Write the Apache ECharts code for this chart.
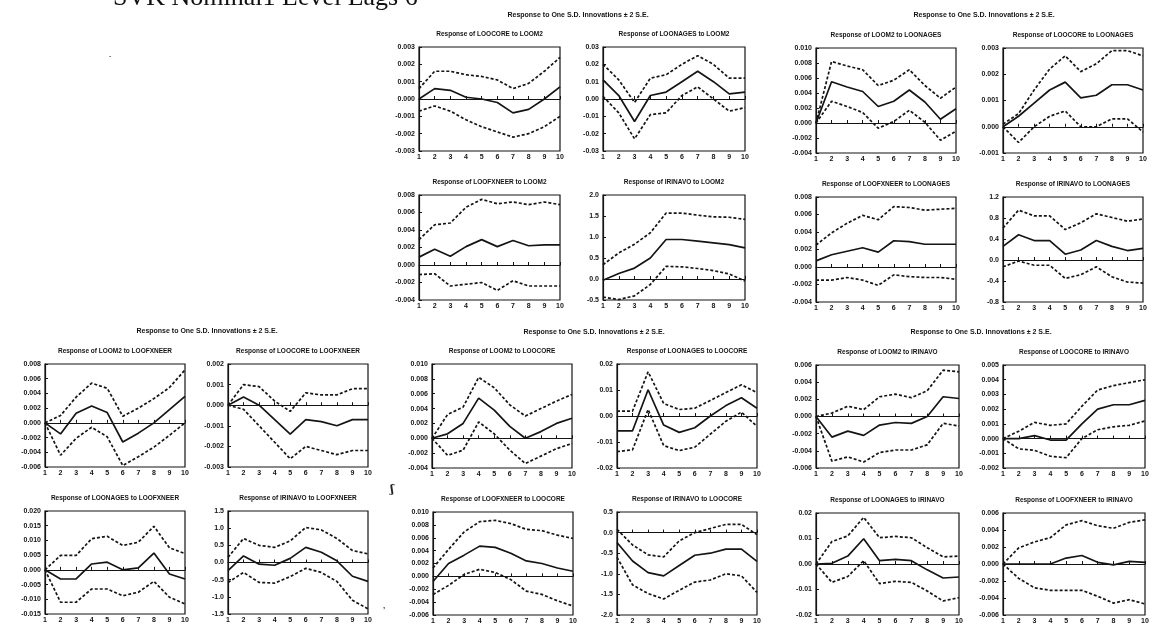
<!DOCTYPE html>
<html>
<head>
<meta charset="utf-8">
<script src="https://cdn.jsdelivr.net/npm/echarts@6/dist/echarts.min.js"></script>
<style>
  html, body { margin: 0; padding: 0; background: #fff; }
  #chart { width: 1156px; height: 636px; }
</style>
</head>
<body>
<div id="chart"></div>
<script>
// Impulse responses over 10 periods, each with a +/- 2 S.E. band.
const steps = ['1', '2', '3', '4', '5', '6', '7', '8', '9', '10'];
const pageTitle = 'SVK Nominal1 Level Lags 6';
const blockHeading = 'Response to One S.D. Innovations \u00b1 2 S.E.';

// ---- shock: LOOM2 ----
const coreToM2Axis = [-0.003, 0.003, 0.001];
const coreToM2Up  = [0.0006, 0.0016, 0.0016, 0.0014, 0.0013, 0.0011, 0.0006, 0.0009, 0.0016, 0.0024];
const coreToM2Mid = [0.0000, 0.0006, 0.0005, 0.0001, 0.0000, -0.0002, -0.0008, -0.0006, 0.0000, 0.0007];
const coreToM2Lo  = [-0.0007, -0.0004, -0.0007, -0.0012, -0.0016, -0.0019, -0.0022, -0.0020, -0.0016, -0.0010];

const nagesToM2Axis = [-0.03, 0.03, 0.01];
const nagesToM2Up  = [0.020, 0.011, -0.002, 0.012, 0.014, 0.020, 0.025, 0.020, 0.012, 0.012];
const nagesToM2Mid = [0.011, 0.002, -0.013, 0.002, 0.004, 0.010, 0.016, 0.010, 0.003, 0.004];
const nagesToM2Lo  = [0.0015, -0.008, -0.023, -0.009, -0.008, 0.002, 0.007, 0.000, -0.007, -0.005];

const fxneerToM2Axis = [-0.004, 0.008, 0.002];
const fxneerToM2Up  = [0.0029, 0.0046, 0.0048, 0.0066, 0.0075, 0.0070, 0.0072, 0.0069, 0.0072, 0.0069];
const fxneerToM2Mid = [0.0009, 0.0018, 0.0010, 0.0021, 0.0029, 0.0021, 0.0028, 0.0022, 0.0023, 0.0023];
const fxneerToM2Lo  = [-0.0011, -0.0010, -0.0024, -0.0022, -0.0020, -0.0029, -0.0018, -0.0024, -0.0024, -0.0024];

const irinavoToM2Axis = [-0.5, 2.0, 0.5];
const irinavoToM2Up  = [0.34, 0.62, 0.83, 1.10, 1.57, 1.57, 1.52, 1.48, 1.47, 1.42];
const irinavoToM2Mid = [-0.03, 0.13, 0.26, 0.50, 0.94, 0.94, 0.90, 0.86, 0.82, 0.74];
const irinavoToM2Lo  = [-0.43, -0.49, -0.40, -0.13, 0.30, 0.29, 0.25, 0.20, 0.12, -0.05];

// ---- shock: LOONAGES ----
const m2ToNagesAxis = [-0.004, 0.010, 0.002];
const m2ToNagesUp  = [0, 0.0082, 0.0076, 0.0071, 0.0050, 0.0057, 0.0071, 0.0050, 0.0033, 0.0048];
const m2ToNagesMid = [0, 0.0055, 0.0048, 0.0042, 0.0022, 0.0029, 0.0044, 0.0028, 0.0005, 0.0019];
const m2ToNagesLo  = [0, 0.0029, 0.0022, 0.0014, -0.0007, 0.0002, 0.0017, 0.0001, -0.0023, -0.0011];

const coreToNagesAxis = [-0.001, 0.003, 0.001];
const coreToNagesUp  = [0.0001, 0.0005, 0.0014, 0.0022, 0.0027, 0.0021, 0.0024, 0.0029, 0.0029, 0.0027];
const coreToNagesMid = [0.0000, 0.0004, 0.0009, 0.0014, 0.0017, 0.0011, 0.0012, 0.0016, 0.0016, 0.0014];
const coreToNagesLo  = [0.0000, -0.0006, 0.0000, 0.0004, 0.0006, 0.0000, 0.0000, 0.0003, 0.0003, -0.0002];

const fxneerToNagesAxis = [-0.004, 0.008, 0.002];
const fxneerToNagesUp  = [0.0025, 0.0039, 0.0050, 0.0059, 0.0054, 0.0069, 0.0068, 0.0065, 0.0066, 0.0067];
const fxneerToNagesMid = [0.0007, 0.0014, 0.0018, 0.0022, 0.0017, 0.0030, 0.0029, 0.0026, 0.0026, 0.0026];
const fxneerToNagesLo  = [-0.0015, -0.0015, -0.0012, -0.0015, -0.0021, -0.0009, -0.0011, -0.0012, -0.0012, -0.0014];

const irinavoToNagesAxis = [-0.8, 1.2, 0.4];
const irinavoToNagesUp  = [0.61, 0.95, 0.84, 0.84, 0.58, 0.71, 0.88, 0.81, 0.74, 0.78];
const irinavoToNagesMid = [0.26, 0.48, 0.37, 0.37, 0.11, 0.19, 0.37, 0.26, 0.18, 0.22];
const irinavoToNagesLo  = [-0.13, -0.02, -0.10, -0.10, -0.35, -0.28, -0.13, -0.32, -0.42, -0.44];

// ---- shock: LOOFXNEER ----
const m2ToFxneerAxis = [-0.006, 0.008, 0.002];
const m2ToFxneerUp  = [0, 0.0010, 0.0035, 0.0054, 0.0047, 0.0009, 0.0020, 0.0033, 0.0048, 0.0072];
const m2ToFxneerMid = [0, -0.0015, 0.0013, 0.0023, 0.0014, -0.0026, -0.0014, 0.0000, 0.0018, 0.0036];
const m2ToFxneerLo  = [0, -0.0044, -0.0021, -0.0006, -0.0019, -0.0058, -0.0046, -0.0033, -0.0017, 0.0000];

const coreToFxneerAxis = [-0.003, 0.002, 0.001];
const coreToFxneerUp  = [0.0000, 0.0010, 0.0009, 0.0002, -0.0003, 0.0006, 0.0005, 0.0005, 0.0008, 0.0008];
const coreToFxneerMid = [0.0000, 0.0004, 0.0000, -0.0007, -0.0014, -0.0007, -0.0008, -0.0010, -0.0007, -0.0007];
const coreToFxneerLo  = [0.0000, -0.0002, -0.0010, -0.0018, -0.0026, -0.0020, -0.0022, -0.0024, -0.0022, -0.0022];

const nagesToFxneerAxis = [-0.015, 0.020, 0.005];
const nagesToFxneerUp  = [0, 0.0049, 0.0049, 0.0106, 0.0114, 0.0083, 0.0094, 0.0148, 0.0075, 0.0055];
const nagesToFxneerMid = [0, -0.0031, -0.0031, 0.0020, 0.0026, 0.0000, 0.0007, 0.0057, -0.0014, -0.0031];
const nagesToFxneerLo  = [0, -0.0110, -0.0110, -0.0065, -0.0065, -0.0088, -0.0076, -0.0039, -0.0093, -0.0116];

const irinavoToFxneerAxis = [-1.5, 1.5, 0.5];
const irinavoToFxneerUp  = [0.15, 0.70, 0.50, 0.44, 0.63, 1.02, 0.95, 0.70, 0.35, 0.25];
const irinavoToFxneerMid = [-0.24, 0.19, -0.05, -0.08, 0.12, 0.44, 0.30, 0.05, -0.40, -0.55];
const irinavoToFxneerLo  = [-0.58, -0.29, -0.58, -0.60, -0.41, -0.17, -0.29, -0.55, -1.10, -1.35];

// ---- shock: LOOCORE ----
const m2ToCoreAxis = [-0.004, 0.010, 0.002];
const m2ToCoreUp  = [0, 0.0032, 0.0042, 0.0082, 0.0068, 0.0045, 0.0030, 0.0040, 0.0050, 0.0059];
const m2ToCoreMid = [0, 0.0006, 0.0020, 0.0054, 0.0038, 0.0016, 0.0000, 0.0009, 0.0020, 0.0027];
const m2ToCoreLo  = [0, -0.0023, -0.0016, 0.0022, 0.0006, -0.0016, -0.0034, -0.0024, -0.0014, -0.0007];

const nagesToCoreAxis = [-0.02, 0.02, 0.01];
const nagesToCoreUp  = [0.0019, 0.0019, 0.0170, 0.0048, 0.0025, 0.0030, 0.0060, 0.0090, 0.0120, 0.0090];
const nagesToCoreMid = [-0.0057, -0.0057, 0.0101, -0.0035, -0.0063, -0.0045, 0.0000, 0.0040, 0.0070, 0.0030];
const nagesToCoreLo  = [-0.0137, -0.0130, 0.0025, -0.0114, -0.0133, -0.0120, -0.0070, -0.0020, 0.0015, -0.0040];

const fxneerToCoreAxis = [-0.006, 0.010, 0.002];
const fxneerToCoreUp  = [0.0013, 0.0042, 0.0069, 0.0085, 0.0087, 0.0082, 0.0073, 0.0071, 0.0064, 0.0059];
const fxneerToCoreMid = [-0.0008, 0.0020, 0.0033, 0.0047, 0.0045, 0.0036, 0.0024, 0.0020, 0.0013, 0.0008];
const fxneerToCoreLo  = [-0.0028, -0.0014, 0.0003, 0.0011, 0.0006, -0.0005, -0.0023, -0.0028, -0.0038, -0.0046];

const irinavoToCoreAxis = [-2.0, 0.5, 0.5];
const irinavoToCoreUp  = [0.08, -0.30, -0.54, -0.59, -0.20, 0.00, 0.10, 0.20, 0.20, -0.05];
const irinavoToCoreMid = [-0.24, -0.69, -0.97, -1.05, -0.80, -0.55, -0.50, -0.40, -0.40, -0.70];
const irinavoToCoreLo  = [-0.60, -1.27, -1.48, -1.61, -1.40, -1.20, -1.15, -1.00, -1.05, -1.45];

// ---- shock: IRINAVO ----
const m2ToIrinavoAxis = [-0.006, 0.006, 0.002];
const m2ToIrinavoUp  = [0, 0.0004, 0.0012, 0.0008, 0.0023, 0.0026, 0.0022, 0.0030, 0.0054, 0.0052];
const m2ToIrinavoMid = [0, -0.0024, -0.0017, -0.0022, -0.0010, -0.0007, -0.0008, 0.0000, 0.0023, 0.0021];
const m2ToIrinavoLo  = [0, -0.0052, -0.0047, -0.0053, -0.0042, -0.0039, -0.0039, -0.0033, -0.0008, -0.0011];

const coreToIrinavoAxis = [-0.002, 0.005, 0.001];
const coreToIrinavoUp  = [0, 0.0005, 0.0011, 0.0009, 0.0010, 0.0022, 0.0033, 0.0036, 0.0038, 0.0040];
const coreToIrinavoMid = [0, 0.0000, 0.0002, -0.0001, -0.0001, 0.0010, 0.0020, 0.0023, 0.0023, 0.0026];
const coreToIrinavoLo  = [0, -0.0007, -0.0008, -0.0012, -0.0013, 0.0000, 0.0006, 0.0008, 0.0009, 0.0012];

const nagesToIrinavoAxis = [-0.02, 0.02, 0.01];
const nagesToIrinavoUp  = [0, 0.0088, 0.0110, 0.0183, 0.0103, 0.0108, 0.0103, 0.0064, 0.0028, 0.0031];
const nagesToIrinavoMid = [0, 0.0003, 0.0031, 0.0099, 0.0013, 0.0018, 0.0013, -0.0023, -0.0055, -0.0051];
const nagesToIrinavoLo  = [0, -0.0072, -0.0049, 0.0013, -0.0077, -0.0068, -0.0072, -0.0106, -0.0145, -0.0132];

const fxneerToIrinavoAxis = [-0.006, 0.006, 0.002];
const fxneerToIrinavoUp  = [0, 0.0019, 0.0026, 0.0031, 0.0046, 0.0051, 0.0045, 0.0042, 0.0049, 0.0052];
const fxneerToIrinavoMid = [0, 0.0000, 0.0000, 0.0000, 0.0007, 0.0010, 0.0002, -0.0001, 0.0003, 0.0002];
const fxneerToIrinavoLo  = [0, -0.0017, -0.0028, -0.0031, -0.0031, -0.0031, -0.0038, -0.0046, -0.0042, -0.0047];

// Panel contents, grouped by shock (four panels per group).
const panels = [
  ['Response of LOOCORE to LOOM2', coreToM2Axis, coreToM2Up, coreToM2Mid, coreToM2Lo],
  ['Response of LOONAGES to LOOM2', nagesToM2Axis, nagesToM2Up, nagesToM2Mid, nagesToM2Lo],
  ['Response of LOOFXNEER to LOOM2', fxneerToM2Axis, fxneerToM2Up, fxneerToM2Mid, fxneerToM2Lo],
  ['Response of IRINAVO to LOOM2', irinavoToM2Axis, irinavoToM2Up, irinavoToM2Mid, irinavoToM2Lo],

  ['Response of LOOM2 to LOONAGES', m2ToNagesAxis, m2ToNagesUp, m2ToNagesMid, m2ToNagesLo],
  ['Response of LOOCORE to LOONAGES', coreToNagesAxis, coreToNagesUp, coreToNagesMid, coreToNagesLo],
  ['Response of LOOFXNEER to LOONAGES', fxneerToNagesAxis, fxneerToNagesUp, fxneerToNagesMid, fxneerToNagesLo],
  ['Response of IRINAVO to LOONAGES', irinavoToNagesAxis, irinavoToNagesUp, irinavoToNagesMid, irinavoToNagesLo],

  ['Response of LOOM2 to LOOFXNEER', m2ToFxneerAxis, m2ToFxneerUp, m2ToFxneerMid, m2ToFxneerLo],
  ['Response of LOOCORE to LOOFXNEER', coreToFxneerAxis, coreToFxneerUp, coreToFxneerMid, coreToFxneerLo],
  ['Response of LOONAGES to LOOFXNEER', nagesToFxneerAxis, nagesToFxneerUp, nagesToFxneerMid, nagesToFxneerLo],
  ['Response of IRINAVO to LOOFXNEER', irinavoToFxneerAxis, irinavoToFxneerUp, irinavoToFxneerMid, irinavoToFxneerLo],

  ['Response of LOOM2 to LOOCORE', m2ToCoreAxis, m2ToCoreUp, m2ToCoreMid, m2ToCoreLo],
  ['Response of LOONAGES to LOOCORE', nagesToCoreAxis, nagesToCoreUp, nagesToCoreMid, nagesToCoreLo],
  ['Response of LOOFXNEER to LOOCORE', fxneerToCoreAxis, fxneerToCoreUp, fxneerToCoreMid, fxneerToCoreLo],
  ['Response of IRINAVO to LOOCORE', irinavoToCoreAxis, irinavoToCoreUp, irinavoToCoreMid, irinavoToCoreLo],

  ['Response of LOOM2 to IRINAVO', m2ToIrinavoAxis, m2ToIrinavoUp, m2ToIrinavoMid, m2ToIrinavoLo],
  ['Response of LOOCORE to IRINAVO', coreToIrinavoAxis, coreToIrinavoUp, coreToIrinavoMid, coreToIrinavoLo],
  ['Response of LOONAGES to IRINAVO', nagesToIrinavoAxis, nagesToIrinavoUp, nagesToIrinavoMid, nagesToIrinavoLo],
  ['Response of LOOFXNEER to IRINAVO', fxneerToIrinavoAxis, fxneerToIrinavoUp, fxneerToIrinavoMid, fxneerToIrinavoLo]
];

// Plot frames [left, top, width, height] in pixels, same order as panels.
const frames = [
  [419, 47, 141, 104], [603, 47, 142, 104], [419, 195, 141, 105], [603, 195, 142, 105],
  [816, 48, 140, 105], [1003, 48, 140, 105], [816, 197, 140, 105], [1003, 197, 140, 105],
  [45, 364, 140, 103], [228, 364, 140, 103], [45, 511, 140, 103], [228, 511, 140, 103],
  [432, 364, 140, 104], [617, 364, 140, 104], [433, 512, 140, 103], [617, 512, 140, 103],
  [816, 365, 143, 103], [1003, 365, 142, 103], [816, 513, 143, 102], [1003, 513, 142, 102]
];
// Group heading anchors [centerX, y].
const headings = [[578, 15], [984, 15], [207, 331], [594, 332], [981, 332]];

const INK = '#141414';
const labelFont = { fontFamily: 'Arial, "Liberation Sans", sans-serif', fontWeight: 'bold', fontSize: 7, color: INK };

function decimalsOf(v) {
  const s = String(v);
  return s.indexOf('.') < 0 ? 0 : s.split('.')[1].length;
}

const grid = [], xAxis = [], yAxis = [], series = [], graphic = [];

panels.forEach((p, i) => {
  const [title, axis, up, mid, lo] = p;
  const [l, t, w, h] = frames[i];
  const dec = decimalsOf(axis[2]);
  grid.push({ left: l, top: t, width: w, height: h, show: true, borderColor: INK, borderWidth: 1.2, backgroundColor: 'transparent' });
  xAxis.push({
    type: 'category', gridIndex: i, data: steps, boundaryGap: false,
    axisLine: { lineStyle: { color: INK, width: 1.2 } },
    axisTick: { inside: true, length: 3, alignWithLabel: true, interval: 0, lineStyle: { color: INK } },
    axisLabel: Object.assign({ margin: 3, interval: 0 }, labelFont),
    splitLine: { show: false }
  });
  yAxis.push({
    type: 'value', gridIndex: i, min: axis[0], max: axis[1], interval: axis[2],
    axisLine: { show: true, lineStyle: { color: INK, width: 1.2 } },
    axisTick: { show: true, inside: true, length: 3, lineStyle: { color: INK } },
    axisLabel: Object.assign({ margin: 4, formatter: v => (Math.abs(v) < 1e-12 ? 0 : v).toFixed(dec) }, labelFont),
    splitLine: { show: false }
  });
  const band = { type: 'line', xAxisIndex: i, yAxisIndex: i, symbol: 'none', silent: true,
    lineStyle: { color: INK, width: 1.7, type: [3, 2] } };
  series.push(Object.assign({}, band, { data: up }));
  series.push(Object.assign({}, band, { data: lo }));
  series.push({
    type: 'line', xAxisIndex: i, yAxisIndex: i, symbol: 'none', silent: true, data: mid,
    lineStyle: { color: INK, width: 1.7 },
    markLine: { symbol: 'none', silent: true, label: { show: false },
      lineStyle: { color: INK, width: 1.2, type: 'solid' }, data: [{ yAxis: 0 }] }
  });
  graphic.push({ type: 'text', x: l + w / 2, y: t - 13,
    style: { text: title, fill: INK, font: 'bold 6.5px Arial, "Liberation Sans", sans-serif',
      textAlign: 'center', textVerticalAlign: 'middle', align: 'center', verticalAlign: 'middle' } });
});

headings.forEach(([cx, cy]) => {
  graphic.push({ type: 'text', x: cx, y: cy,
    style: { text: blockHeading, fill: INK, font: 'bold 7px Arial, "Liberation Sans", sans-serif',
      textAlign: 'center', textVerticalAlign: 'middle', align: 'center', verticalAlign: 'middle' } });
});

graphic.push({ type: 'text', x: 113, y: 11,
  style: { text: pageTitle, fill: '#111', font: '26px "Liberation Serif", "DejaVu Serif", serif',
    textAlign: 'left', textVerticalAlign: 'bottom', align: 'left', verticalAlign: 'bottom' } });
// Stray pen marks on the sheet
graphic.push({ type: 'text', x: 392, y: 490,
  style: { text: '\u0283', fill: '#222', font: 'bold 11px "DejaVu Serif", serif',
    textAlign: 'center', textVerticalAlign: 'middle', align: 'center', verticalAlign: 'middle' } });
graphic.push({ type: 'text', x: 110, y: 55,
  style: { text: '.', fill: '#333', font: 'bold 8px Arial, sans-serif',
    textAlign: 'center', textVerticalAlign: 'middle', align: 'center', verticalAlign: 'middle' } });
graphic.push({ type: 'text', x: 384, y: 606,
  style: { text: ',', fill: '#333', font: 'bold 8px Arial, sans-serif',
    textAlign: 'center', textVerticalAlign: 'middle', align: 'center', verticalAlign: 'middle' } });

const chart = echarts.init(document.getElementById('chart'), null, { renderer: 'canvas' });
chart.setOption({ animation: false, backgroundColor: '#fff', grid, xAxis, yAxis, series, graphic });
</script>
</body>
</html>
